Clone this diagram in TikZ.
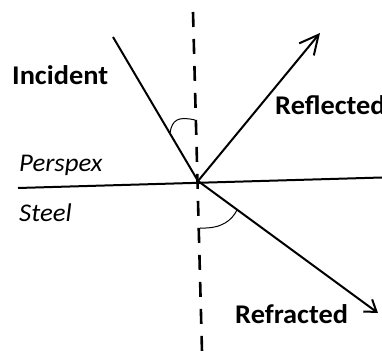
\documentclass[tikz,border=0pt]{standalone}
\usepackage{fontspec}
\setmainfont{Carlito}
\newfontfamily\lblfont{Carlito}[FakeStretch=1.05]
\usetikzlibrary{arrows.meta}
\tikzset{
  ray/.style={line width=2pt},
  barb/.style={-{Straight Barb[length=19pt,width=19pt,line width=2pt]}},
  smallbarb/.style={-{Straight Barb[length=11pt,width=15pt,line width=2pt]}},
  normalline/.style={line width=2.6pt,dash pattern=on 15pt off 12pt},
  anglearc/.style={line width=1pt},
  raylabel/.style={anchor=base west,inner sep=0pt,font=\lblfont\fontsize{27pt}{32pt}\selectfont\bfseries},
  medlabel/.style={anchor=base west,inner sep=0pt,font=\lblfont\fontsize{25.5pt}{30pt}\selectfont\itshape},
}
\begin{document}
\begin{tikzpicture}[x=1pt,y=-1pt]
\useasboundingbox (0,0) rectangle (382,352);
\coordinate (O) at (198,181);
\coordinate (ntop) at (193,12);
\coordinate (nbot) at (202,352);
\coordinate (sl) at (18,188);
\coordinate (sr) at (382,177.5);
\coordinate (inc) at (113,37);
\coordinate (refl) at (320,33);
\coordinate (refr) at (378,313);
% surface
\draw[ray] (sl) -- (sr);
% normal
\draw[normalline] (ntop) -- (nbot);
% rays
\draw[ray] (inc) -- (O);
\draw[ray,barb] (O) -- (refl);
\draw[ray,smallbarb] (O) -- (refr);
% angle marks
\coordinate (a1) at (170,133);
\coordinate (a2) at (195,120);
\draw[anglearc] (a1) .. controls (172,120) and (178,116) .. (a2);
\coordinate (b1) at (200,228);
\coordinate (b2) at (237,210);
\draw[anglearc] (b1) .. controls (222,229) and (232,220) .. (b2);
% labels
\node[raylabel] (tinc) at (12,85) {Incident};
\node[raylabel] (trefl) at (275,115) {Reflected};
\node[raylabel] (trefr) at (235,323) {Refracted};
\node[medlabel] (tper) at (19,172) {Perspex};
\node[medlabel] (tst) at (19,222) {Steel};
\end{tikzpicture}
\end{document}
